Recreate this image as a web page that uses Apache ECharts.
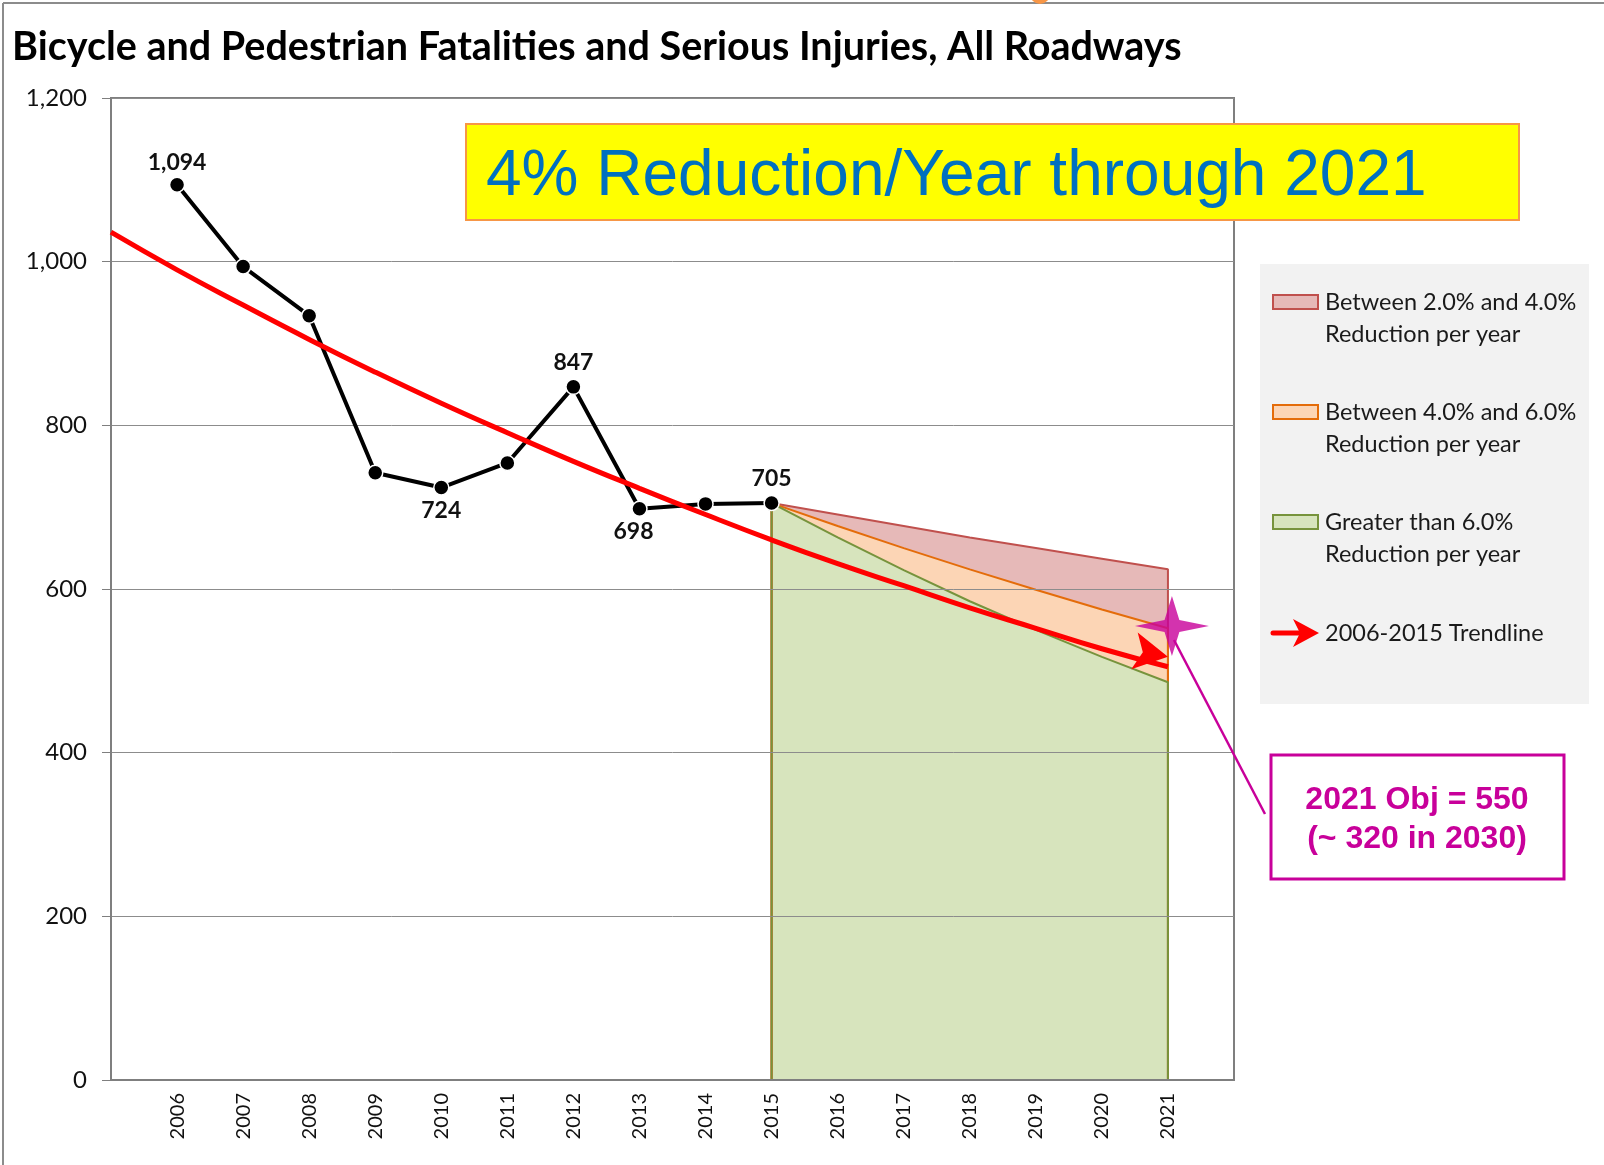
<!DOCTYPE html>
<html>
<head>
<meta charset="utf-8">
<title>Bicycle and Pedestrian Fatalities and Serious Injuries</title>
<script src="https://cdn.jsdelivr.net/npm/echarts@6/dist/echarts.min.js"></script>
<style>
html, body { margin: 0; padding: 0; background: #fff; }
#main { width: 1604px; height: 1165px; }
</style>
</head>
<body>
<div id="main"></div>
<script>
// observed counts
var actualYears = [2006, 2007, 2008, 2009, 2010, 2011, 2012, 2013, 2014, 2015];
var actualValues = [1094, 994, 934, 742, 724, 754, 847, 698, 704, 705];
var labelledYears = [2006, 2010, 2012, 2013, 2015];

// 2006-2015 trendline
var trendYears = [2005, 2006, 2007, 2008, 2009, 2010, 2011, 2012, 2013, 2014, 2015, 2016, 2017, 2018, 2019, 2020, 2021];
var trendValues = [1036, 990, 947, 905, 865, 827, 791, 756, 723, 691, 660, 631, 604, 577, 552, 527, 505];

// projection bands from 2015
var projYears = [2015, 2016, 2017, 2018, 2019, 2020, 2021];
var proj2 = [705, 691, 677, 663, 650, 637, 624];
var proj4 = [705, 677, 650, 624, 599, 575, 552];
var proj6 = [705, 663, 623, 585, 550, 517, 486];

var objective = [2021, 550];
var yearLabels = ['2006', '2007', '2008', '2009', '2010', '2011', '2012', '2013', '2014', '2015',
                  '2016', '2017', '2018', '2019', '2020', '2021'];

var calibri = 'Lato, "Noto Sans", sans-serif';
var arial = '"Liberation Sans", Arial, sans-serif';

function pairs(xs, ys) {
    var out = [];
    for (var i = 0; i < xs.length; i++) out.push([xs[i], ys[i]]);
    return out;
}
// closed band shape: down to 0 at both ends
function band(ys) {
    return [[projYears[0], 0]].concat(pairs(projYears, ys)).concat([[projYears[projYears.length - 1], 0]]);
}
function bandSeries(name, ys, stroke, fill) {
    return {
        name: name,
        type: 'line',
        data: band(ys),
        symbol: 'none',
        z: 2,
        lineStyle: { color: stroke, width: 2 },
        areaStyle: { color: fill, opacity: 1 },
        silent: true
    };
}

var actualData = [];
for (var i = 0; i < actualYears.length; i++) {
    var item = { value: [actualYears[i], actualValues[i]] };
    if (labelledYears.indexOf(actualYears[i]) >= 0) {
        var below = actualYears[i] === 2010 || actualYears[i] === 2013;
        item.label = { show: true, position: below ? 'bottom' : 'top', distance: below ? 3 : 5 };
        if (actualYears[i] === 2013) item.label.offset = [-6, 0];
        if (actualYears[i] === 2006) item.label.distance = 2;
    }
    actualData.push(item);
}

var trendData = pairs(trendYears, trendValues);
var last = trendData.length - 1;
trendData[last] = {
    value: trendData[last],
    symbol: 'arrow',
    symbolSize: [28, 34],
    symbolRotate: -100,
    symbolOffset: [0, -10]
};

var myChart = echarts.init(document.getElementById('main'));
var option = {
    animation: false,
    backgroundColor: '#fff',
    grid: {
        left: 111, top: 98, width: 1123, height: 982,
        show: true, borderColor: '#7f7f7f', borderWidth: 2
    },
    xAxis: {
        type: 'value',
        min: 2005,
        max: 2022,
        interval: 1,
        z: 5,
        axisLine: { show: true, lineStyle: { color: '#7f7f7f', width: 2 } },
        axisTick: { show: false },
        splitLine: { show: false },
        axisLabel: {
            rotate: 90,
            margin: 13,
            fontFamily: calibri,
            fontSize: 20,
            color: '#111',
            formatter: function (v) {
                return yearLabels.indexOf(String(v)) >= 0 ? String(v) : '';
            }
        }
    },
    yAxis: {
        type: 'value',
        min: 0,
        max: 1200,
        interval: 200,
        z: 5,
        axisLine: { show: true, lineStyle: { color: '#7f7f7f', width: 1.5 } },
        axisTick: { show: true, length: 9, lineStyle: { color: '#7f7f7f' } },
        splitLine: { show: true, lineStyle: { color: '#8c8c8c', width: 1 } },
        axisLabel: {
            margin: 24,
            fontFamily: calibri,
            fontSize: 24,
            color: '#111',
            formatter: function (v) { return v.toLocaleString('en-US'); }
        }
    },
    series: [
        bandSeries('Between 2.0% and 4.0%', proj2, '#c0504d', '#e6b9b8'),
        bandSeries('Between 4.0% and 6.0%', proj4, '#e46c0a', '#fcd5b5'),
        bandSeries('Greater than 6.0%', proj6, '#77933c', '#d7e4bd'),
        {
            name: 'Actual',
            type: 'line',
            data: actualData,
            z: 10,
            symbol: 'circle',
            symbolSize: 15,
            itemStyle: { color: '#000', borderColor: '#fff', borderWidth: 1.5 },
            lineStyle: { color: '#000', width: 4 },
            label: {
                show: false,
                fontFamily: calibri,
                fontWeight: 'bold',
                fontSize: 23,
                color: '#111',
                formatter: function (p) { return p.value[1].toLocaleString('en-US'); }
            }
        },
        {
            name: '2006-2015 Trendline',
            type: 'line',
            data: trendData,
            smooth: true,
            z: 12,
            symbol: 'none',
            showSymbol: true,
            itemStyle: { color: '#ff0000' },
            lineStyle: { color: '#ff0000', width: 5 }
        },
        {
            name: 'Objective',
            type: 'scatter',
            data: [objective],
            z: 14,
            symbol: 'path://M0,-50 L10,-10 L50,0 L10,10 L0,50 L-10,10 L-50,0 L-10,-10 Z',
            symbolSize: [74, 60],
            symbolKeepAspect: false,
            symbolOffset: [4, -4],
            itemStyle: { color: '#c8009a' }
        }
    ],
    graphic: [
        // outer frame
        { type: 'line', z: 50, shape: { x1: 3, y1: 3, x2: 1604, y2: 3 }, style: { stroke: '#8c8c8c', lineWidth: 2 } },
        { type: 'line', z: 50, shape: { x1: 3, y1: 3, x2: 3, y2: 1165 }, style: { stroke: '#8c8c8c', lineWidth: 2 } },
        { type: 'circle', z: 50, shape: { cx: 1040, cy: -6, r: 10 }, style: { fill: '#f79646' } },
        // title
        {
            type: 'text', z: 50, x: 12, y: 47,
            style: {
                text: 'Bicycle and Pedestrian Fatalities and Serious Injuries, All Roadways',
                fontFamily: calibri, fontWeight: 'bold', fontSize: 39.5, fill: '#000',
                verticalAlign: 'middle'
            }
        },
        // yellow banner
        {
            type: 'rect', z: 60,
            shape: { x: 466, y: 124, width: 1053, height: 96 },
            style: { fill: '#ffff00', stroke: '#f79646', lineWidth: 2 }
        },
        {
            type: 'text', z: 61, x: 486, y: 177,
            style: {
                text: '4% Reduction/Year through 2021',
                fontFamily: arial, fontSize: 64, fill: '#0070c0',
                verticalAlign: 'middle'
            }
        },
        // legend panel
        { type: 'rect', z: 60, shape: { x: 1260, y: 264, width: 329, height: 440 }, style: { fill: '#f2f2f2' } },
        { type: 'rect', z: 61, shape: { x: 1273, y: 295, width: 45, height: 14 }, style: { fill: '#e6b9b8', stroke: '#c0504d', lineWidth: 2 } },
        { type: 'rect', z: 61, shape: { x: 1273, y: 405, width: 45, height: 14 }, style: { fill: '#fcd5b5', stroke: '#e46c0a', lineWidth: 2 } },
        { type: 'rect', z: 61, shape: { x: 1273, y: 515, width: 45, height: 14 }, style: { fill: '#d7e4bd', stroke: '#77933c', lineWidth: 2 } },
        { type: 'line', z: 61, shape: { x1: 1273, y1: 633, x2: 1305, y2: 633 }, style: { stroke: '#ff0000', lineWidth: 5, lineCap: 'round' } },
        { type: 'polygon', z: 61, shape: { points: [[1319, 633], [1293, 619], [1300, 633], [1293, 647]] }, style: { fill: '#ff0000' } },
        {
            type: 'text', z: 61, x: 1325, y: 318,
            style: { text: 'Between 2.0% and 4.0%\nReduction per year', fontFamily: calibri, fontSize: 23.5, fill: '#1a1a1a', lineHeight: 32, verticalAlign: 'middle' }
        },
        {
            type: 'text', z: 61, x: 1325, y: 428,
            style: { text: 'Between 4.0% and 6.0%\nReduction per year', fontFamily: calibri, fontSize: 23.5, fill: '#1a1a1a', lineHeight: 32, verticalAlign: 'middle' }
        },
        {
            type: 'text', z: 61, x: 1325, y: 538,
            style: { text: 'Greater than 6.0%\nReduction per year', fontFamily: calibri, fontSize: 23.5, fill: '#1a1a1a', lineHeight: 32, verticalAlign: 'middle' }
        },
        {
            type: 'text', z: 61, x: 1325, y: 633,
            style: { text: '2006-2015 Trendline', fontFamily: calibri, fontSize: 23.5, fill: '#1a1a1a', verticalAlign: 'middle' }
        },
        // objective callout
        { type: 'line', z: 13, shape: { x1: 1174, y1: 640, x2: 1265, y2: 814 }, style: { stroke: '#c8009a', lineWidth: 2.5 } },
        {
            type: 'rect', z: 60,
            shape: { x: 1271, y: 755, width: 293, height: 124 },
            style: { fill: '#fff', stroke: '#c8009a', lineWidth: 3 }
        },
        {
            type: 'text', z: 61, x: 1417, y: 820,
            style: {
                text: '2021 Obj = 550\n(~ 320 in 2030)',
                fontFamily: arial, fontWeight: 'bold', fontSize: 32, fill: '#c8009a',
                lineHeight: 39, align: 'center', verticalAlign: 'middle'
            }
        }
    ]
};
myChart.setOption(option);
</script>
</body>
</html>
